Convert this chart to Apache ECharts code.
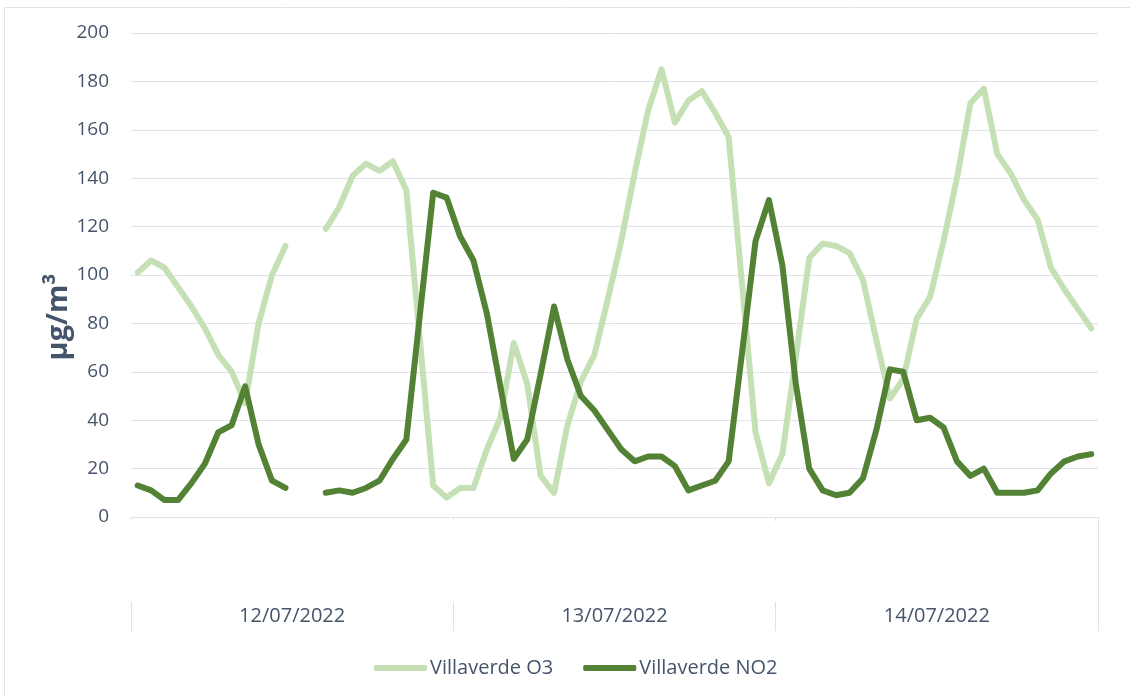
<!DOCTYPE html>
<html>
<head>
<meta charset="utf-8">
<script src="https://cdn.jsdelivr.net/npm/echarts@6/dist/echarts.min.js"></script>
<style>
html,body{margin:0;padding:0;background:#fff;}
#chart{width:1130px;height:697px;}
</style>
</head>
<body>
<div id="chart"></div>
<script>
// ---- data ----
var days = ['12/07/2022', '13/07/2022', '14/07/2022'];
var hours = ['00','01','02','03','04','05','06','07','08','09','10','11','12','13','14','15','16','17','18','19','20','21','22','23'];
var yTicks = [0, 20, 40, 60, 80, 100, 120, 140, 160, 180, 200];

var o3 = [
  101, 106, 103, 95, 87, 78, 67, 60, 47, 80, 100, 112, null, null, 119, 128, 141, 146, 143, 147, 135, 74, 13, 8,
  12, 12, 28, 41, 72, 55, 17, 10, 38, 56, 67, 90, 114, 142, 168, 185, 163, 172, 176, 167, 157, 96, 35, 14,
  26, 66, 107, 113, 112, 109, 98, 73, 49, 57, 82, 91, 114, 140, 171, 177, 150, 142, 131, 123, 103, 94, 86, 78
];
var no2 = [
  13, 11, 7, 7, 14, 22, 35, 38, 54, 30, 15, 12, null, null, 10, 11, 10, 12, 15, 24, 32, 83, 134, 132,
  116, 106, 84, 54, 24, 32, 59, 87, 65, 50, 44, 36, 28, 23, 25, 25, 21, 11, 13, 15, 23, 68, 114, 131,
  104, 55, 20, 11, 9, 10, 16, 36, 61, 60, 40, 41, 37, 23, 17, 20, 10, 10, 10, 11, 18, 23, 25, 26
];

var categories = [];
days.forEach(function (d) { hours.forEach(function (h) { categories.push(d + ' ' + h + ':00'); }); });

var textColor = '#44546A';
var gridColor = '#DFE3E9';
var font = 'Open Sans';

var chart = echarts.init(document.getElementById('chart'), null, {renderer: 'canvas'});
chart.setOption({
  animation: false,
  backgroundColor: '#ffffff',
  textStyle: {fontFamily: font},
  graphic: [{
    type: 'rect', silent: true, z: -10,
    shape: {x: 4.5, y: 7.5, width: 1140, height: 720},
    style: {fill: 'none', stroke: gridColor, lineWidth: 1}
  }],
  grid: {left: 131, right: 32, top: 33, bottom: 180, containLabel: false},
  legend: {
    left: 369, top: 653,
    icon: 'roundRect',
    itemWidth: 53, itemHeight: 6, itemGap: 30,
    textStyle: {color: textColor, fontSize: 20, fontFamily: font, padding: [0, 0, 0, -2]},
    data: ['Villaverde O3', 'Villaverde NO2']
  },
  xAxis: [{
    type: 'category',
    data: categories,
    boundaryGap: true,
    axisLine: {show: true, lineStyle: {color: gridColor, width: 1}},
    axisTick: {show: true, length: 4, interval: function (i) { return i % 24 === 0; }, lineStyle: {color: gridColor}},
    axisLabel: {show: false},
    splitLine: {show: false}
  }, {
    type: 'category',
    data: days,
    position: 'bottom',
    offset: 85,
    boundaryGap: true,
    axisLine: {show: false},
    axisTick: {show: true, length: 29, lineStyle: {color: gridColor}},
    axisLabel: {show: true, color: textColor, fontSize: 20, fontFamily: font, margin: 4},
    splitLine: {show: false}
  }, {
    type: 'value',
    min: 0, max: 1,
    position: 'bottom',
    offset: 0,
    axisLine: {show: false},
    axisTick: {show: true, length: 113, customValues: [1], lineStyle: {color: gridColor}},
    axisLabel: {show: false},
    splitLine: {show: false}
  }],
  yAxis: {
    type: 'value',
    min: yTicks[0], max: yTicks[yTicks.length - 1], interval: 20,
    name: 'µg/m³',
    nameLocation: 'middle',
    nameGap: 58,
    nameRotate: 90,
    nameMoveOverlap: false,
    nameTextStyle: {color: textColor, fontSize: 29, fontWeight: 'bold', fontFamily: font, padding: [0, 84, 0, 0]},
    axisLine: {show: false},
    axisTick: {show: false},
    axisLabel: {color: textColor, fontSize: 19, fontFamily: font, margin: 22},
    splitLine: {show: true, lineStyle: {color: gridColor, width: 1}}
  },
  series: [{
    name: 'Villaverde O3',
    type: 'line',
    xAxisIndex: 0,
    data: o3,
    symbol: 'none',
    connectNulls: false,
    lineStyle: {color: '#C5E0B4', width: 6, cap: 'round', join: 'round'},
    itemStyle: {color: '#C5E0B4'}
  }, {
    name: 'Villaverde NO2',
    type: 'line',
    xAxisIndex: 0,
    data: no2,
    symbol: 'none',
    connectNulls: false,
    lineStyle: {color: '#548235', width: 6, cap: 'round', join: 'round'},
    itemStyle: {color: '#548235'}
  }]
});
</script>
</body>
</html>
